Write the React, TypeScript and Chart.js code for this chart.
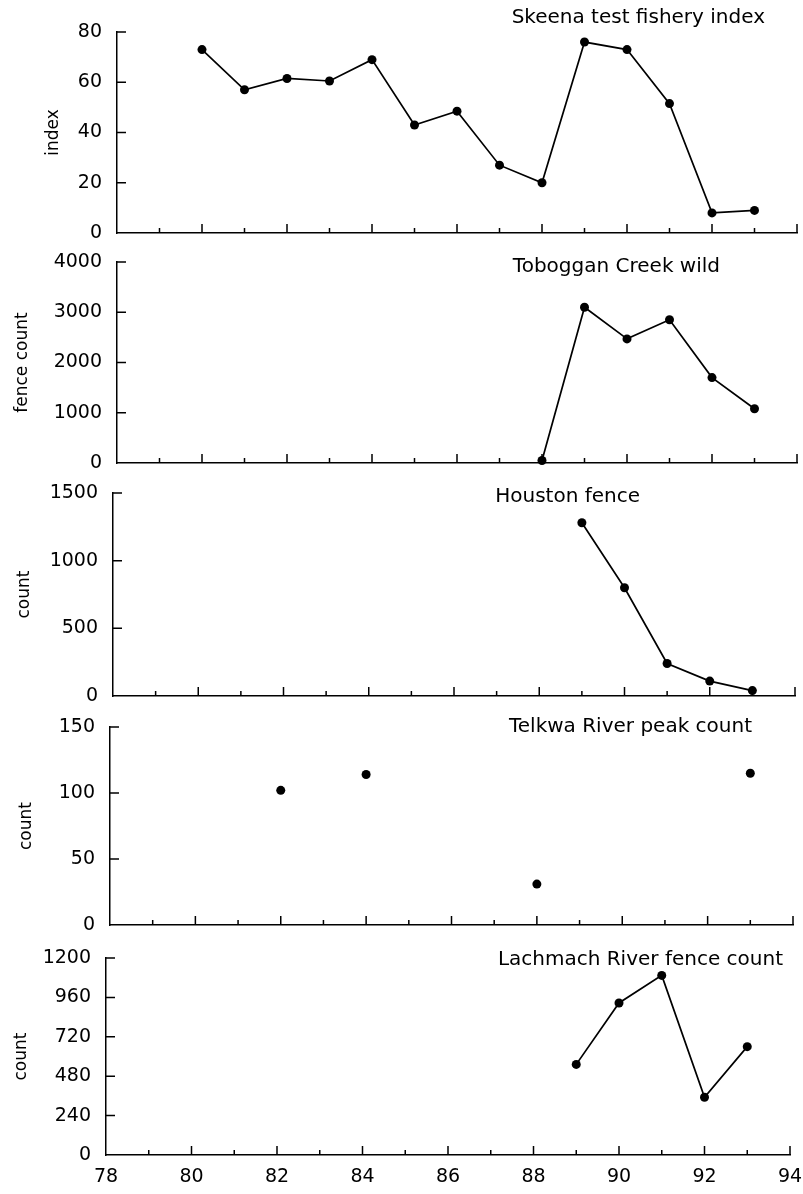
import React, { useEffect, useRef } from 'react';
import { Chart, registerables } from 'chart.js';

Chart.register(...registerables);

// ---------- data ----------
const xMin = 78;
const xMax = 94;

const skeenaYears = [80, 81, 82, 83, 84, 85, 86, 87, 88, 89, 90, 91, 92, 93];
const skeenaIndex = [73, 57, 61.5, 60.5, 69, 43, 48.5, 27, 20, 76, 73, 51.5, 8, 9];

const tobogganYears = [88, 89, 90, 91, 92, 93];
const tobogganCount = [50, 3100, 2470, 2850, 1700, 1080];

const houstonYears = [89, 90, 91, 92, 93];
const houstonCount = [1280, 800, 240, 110, 40];

const telkwaYears = [82, 84, 88, 93];
const telkwaCount = [102, 114, 31, 115];

const lachmachYears = [89, 90, 91, 92, 93];
const lachmachCount = [552, 926, 1094, 352, 660];

const panelTitles = [
  'Skeena test fishery index',
  'Toboggan Creek wild',
  'Houston fence',
  'Telkwa River peak count',
  'Lachmach River fence count',
];
const yAxisTitles = ['index', 'fence count', 'count', 'count', 'count'];
const yMaxima = [80, 4000, 1500, 150, 1200];
const yStepSizes = [20, 1000, 500, 50, 240];

const seriesYears = [skeenaYears, tobogganYears, houstonYears, telkwaYears, lachmachYears];
const seriesValues = [skeenaIndex, tobogganCount, houstonCount, telkwaCount, lachmachCount];
const seriesShowLine = [true, true, true, false, true];

// ---------- layout (pixels) ----------
const PAGE_W = 803;
const PAGE_H = 1194;
const TOP_PAD = 40;
const panelsLayout = [
  { top: 32, bottom: 233, left: 117, right: 797, titleDx: 32, titleDy: -14, yTitleX: 54 },
  { top: 262, bottom: 463, left: 117, right: 797, titleDx: 77, titleDy: 5, yTitleX: 23 },
  { top: 493, bottom: 696, left: 113, right: 795, titleDx: 155, titleDy: 4, yTitleX: 25 },
  { top: 727, bottom: 925, left: 110, right: 793, titleDx: 41, titleDy: 0, yTitleX: 27 },
  { top: 958, bottom: 1155, left: 106, right: 790, titleDx: 7, titleDy: 2, yTitleX: 22 },
];
const FONT = "'DejaVu Sans', Arial, sans-serif";

const inwardTicks = {
  id: 'inwardTicks',
  afterDraw(chart: any) {
    const { ctx, chartArea, scales } = chart;
    const x = scales.x;
    const y = scales.y;
    ctx.save();
    ctx.strokeStyle = '#000';
    ctx.lineWidth = 1.5;
    ctx.beginPath();
    x.ticks.forEach((t: any) => {
      if (t.value === x.min) return;
      const px = x.getPixelForValue(t.value);
      const len = t.value % 2 === 0 ? 9 : 5;
      ctx.moveTo(px, chartArea.bottom);
      ctx.lineTo(px, chartArea.bottom - len);
    });
    y.ticks.forEach((t: any) => {
      if (t.value === y.min) return;
      const py = y.getPixelForValue(t.value);
      ctx.moveTo(chartArea.left, py);
      ctx.lineTo(chartArea.left + 9, py);
    });
    ctx.stroke();
    ctx.restore();
  },
};

const panelTitle = {
  id: 'panelTitle',
  afterDraw(chart: any, _args: any, opts: any) {
    if (!opts || !opts.text) return;
    const { ctx, chartArea } = chart;
    ctx.save();
    ctx.fillStyle = '#000';
    ctx.font = `20px ${FONT}`;
    ctx.textAlign = 'right';
    ctx.textBaseline = 'middle';
    ctx.fillText(opts.text, chartArea.right - opts.dx, chartArea.top + opts.dy);
    ctx.restore();
  },
};

function canvasGeom(i: number) {
  const L = panelsLayout[i];
  const last = i === panelsLayout.length - 1;
  const bottomExtra = last ? 45 : 10;
  return {
    top: L.top - TOP_PAD,
    height: L.bottom - L.top + TOP_PAD + bottomExtra,
    last,
  };
}

function zeroPadding(s: any) {
  s.paddingLeft = 0;
  s.paddingRight = 0;
  s.paddingTop = 0;
  s.paddingBottom = 0;
}

export default function App() {
  const refs = useRef<(HTMLCanvasElement | null)[]>([]);

  useEffect(() => {
    Chart.defaults.font.family = FONT;
    Chart.defaults.color = '#000';
    const charts: Chart[] = [];
    panelsLayout.forEach((L, i) => {
      const canvas = refs.current[i];
      if (!canvas) return;
      const g = canvasGeom(i);
      const data = seriesYears[i].map((yr, k) => ({ x: yr, y: seriesValues[i][k] }));
      const chart = new Chart(canvas, {
        type: 'scatter',
        data: {
          datasets: [
            {
              data,
              showLine: seriesShowLine[i],
              borderColor: '#000',
              borderWidth: 1.7,
              backgroundColor: '#000',
              pointBackgroundColor: '#000',
              pointBorderColor: '#000',
              pointRadius: 4.5,
              pointBorderWidth: 0,
              clip: false as any,
            },
          ],
        },
        options: {
          responsive: false,
          animation: false,
          events: [],
          layout: {
            padding: { top: TOP_PAD, left: 0, right: PAGE_W - L.right, bottom: g.last ? 0 : 10 },
          },
          plugins: {
            legend: { display: false },
            tooltip: { enabled: false },
            panelTitle: { text: panelTitles[i], dx: L.titleDx, dy: L.titleDy },
          } as any,
          scales: {
            x: {
              type: 'linear',
              min: xMin,
              max: xMax,
              grid: { display: false, drawTicks: false },
              border: { display: true, color: '#000', width: 1.5 },
              ticks: {
                display: g.last,
                stepSize: 1,
                autoSkip: false,
                maxRotation: 0,
                padding: 11,
                font: { size: 19 },
                color: '#000',
                callback: (v: any) => (Number(v) % 2 === 0 ? String(v) : ''),
              },
              afterFit: (s: any) => {
                s.height = g.last ? 45 : 0;
                zeroPadding(s);
              },
            },
            y: {
              type: 'linear',
              min: 0,
              max: yMaxima[i],
              grid: { display: false, drawTicks: false },
              border: { display: true, color: '#000', width: 1.5 },
              ticks: {
                stepSize: yStepSizes[i],
                padding: 15,
                font: { size: 19 },
                color: '#000',
                callback: (v: any) => String(v),
              },
              title: {
                display: true,
                text: yAxisTitles[i],
                font: { size: 17 },
                color: '#000',
                padding: { top: L.yTitleX - 10.2, bottom: 0 },
              },
              afterFit: (s: any) => {
                s.width = L.left;
                zeroPadding(s);
              },
            },
          },
        },
        plugins: [inwardTicks, panelTitle],
      });
      charts.push(chart);
    });
    return () => charts.forEach((c) => c.destroy());
  }, []);

  return (
    <div
      style={{
        position: 'absolute',
        left: 0,
        top: 0,
        width: PAGE_W,
        height: PAGE_H,
        background: '#fff',
        overflow: 'hidden',
      }}
    >
      {panelsLayout.map((_, i) => {
        const g = canvasGeom(i);
        return (
          <canvas
            key={i}
            ref={(el) => {
              refs.current[i] = el;
            }}
            width={PAGE_W}
            height={g.height}
            style={{ position: 'absolute', left: 0, top: g.top, width: PAGE_W, height: g.height }}
          />
        );
      })}
    </div>
  );
}
